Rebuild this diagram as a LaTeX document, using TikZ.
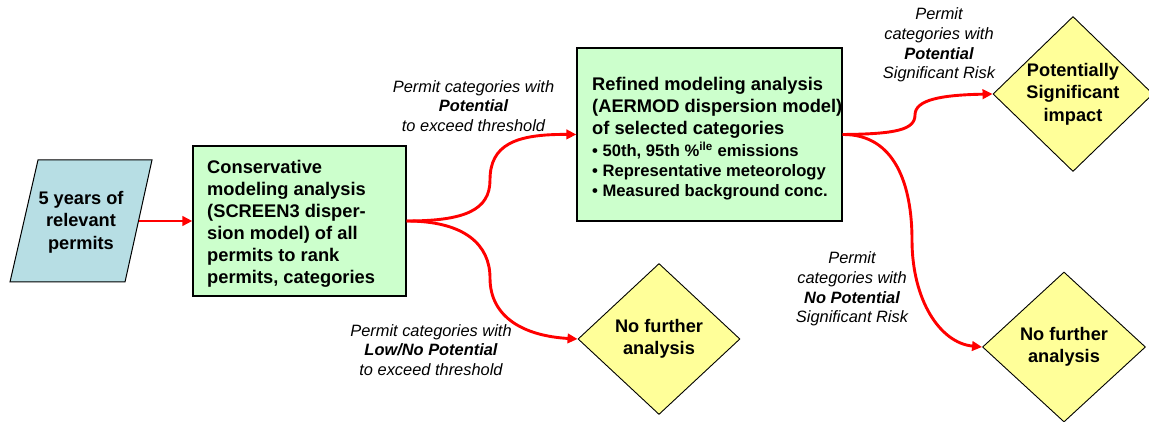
\documentclass[tikz,border=0pt]{standalone}
\usepackage{fontspec}
\setmainfont{Liberation Sans}
\usetikzlibrary{shapes.geometric,arrows.meta}
\definecolor{boxgreen}{RGB}{204,255,204}
\definecolor{parblue}{RGB}{183,222,228}
\definecolor{diayellow}{RGB}{255,255,153}
\definecolor{arrred}{RGB}{255,0,0}
\newcommand{\bulfont}{\fontsize{16.6}{20}\selectfont}
\begin{document}
\begin{tikzpicture}[x=1pt,y=-1pt,
  greenbox/.style={draw=black,line width=1.3pt,fill=boxgreen,inner sep=0pt},
  boxtext/.style={anchor=west,align=left,inner sep=0pt,font=\bfseries\fontsize{18.3}{22}\selectfont},
  decision/.style={diamond,draw=black,line width=0.9pt,fill=diayellow,inner sep=0pt,align=center,font=\bfseries\fontsize{18.2}{22.5}\selectfont},
  flow/.style={draw=arrred,line width=2.9pt,-{Triangle[length=10pt,width=9.5pt]}},
  lbl/.style={align=center,inner sep=0pt,font=\itshape\fontsize{16.4}{19.8}\selectfont}
]
\useasboundingbox (0,0) rectangle (1149,422);

% input parallelogram
\draw[line width=1pt,fill=parblue] (38,160) -- (152,160) -- (125,282) -- (10,282) -- cycle;
\node[align=center,inner sep=0pt,font=\bfseries\fontsize{18.2}{22.5}\selectfont] (src) at (81,222) {5 years of\\relevant\\permits};
\coordinate (srcR) at (138.5,221);

% conservative box
\node[greenbox,minimum width=213pt,minimum height=150pt] (box1) at (299.5,221) {};
\node[boxtext] (box1text) at (207,223.5) {Conservative\\modeling analysis\\(SCREEN3 disper-\\sion model) of all\\permits to rank\\permits, categories};

% refined box
\node[greenbox,minimum width=265pt,minimum height=173pt] (box2) at (709.5,134.5) {};
\node[boxtext] (box2text) at (592,139) {Refined modeling analysis\\(AERMOD dispersion model)\\of selected categories\\\bulfont • 50th, 95th \%\textsuperscript{ile} emissions\\[-2pt]\bulfont • Representative meteorology\\[-2pt]\bulfont • Measured background conc.};

% decisions
\node[decision,minimum width=160pt,minimum height=152pt] (d1) at (1073,94) {Potentially\\Significant\\impact};
\node[decision,minimum width=162pt,minimum height=151pt] (d2) at (659,339) {No further\\analysis};
\node[decision,minimum width=163pt,minimum height=150pt] (d3) at (1064,347) {No further\\analysis};

% connectors
\draw[flow] (srcR) -- (box1.west);
\draw[flow] (box1.east) .. controls (465,221) and (490,210) .. (490,180) .. controls (490,145) and (515,134) .. (box2.west);
\draw[flow] (box1.east) .. controls (465,221) and (490,245) .. (490,278) .. controls (490,318) and (525,336) .. (d2.west);
\draw[flow] (box2.east) .. controls (895,134) and (915,130) .. (915,115) .. controls (915,100) and (940,95) .. (d1.west);
\draw[flow] (box2.east) .. controls (895,134) and (912,185) .. (912,240) .. controls (912,300) and (940,343) .. (d3.west);

% labels
\node[lbl] (l1) at (473.5,106) {Permit categories with\\\textbf{Potential}\\to exceed threshold};
\node[lbl] (l2) at (431,350) {Permit categories with\\\textbf{Low/No Potential}\\to exceed threshold};
\node[lbl] (l3) at (939,45) {Permit\\categories with\\\textbf{Potential}\\Significant Risk};
\node[lbl] (l4) at (852,289) {Permit\\categories with\\\textbf{No Potential}\\Significant Risk};
\end{tikzpicture}
\end{document}
